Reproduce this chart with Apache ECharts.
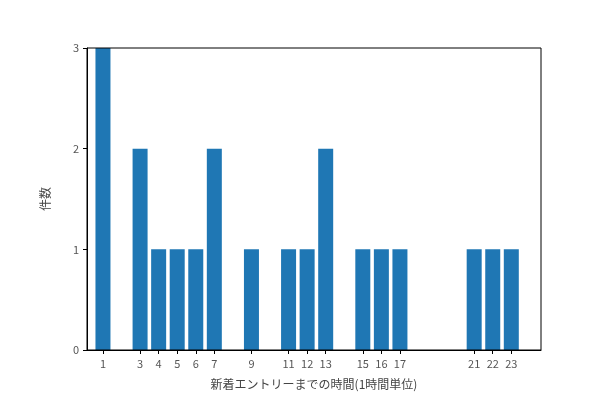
<!DOCTYPE html>
<html><head><meta charset="utf-8">
<script src="https://cdn.jsdelivr.net/npm/echarts@6/dist/echarts.min.js"></script>
</head><body style="margin:0">
<div id="c" style="width:600px;height:400px"></div>
<script>
const hours = [1,3,4,5,6,7,9,11,12,13,15,16,17,21,22,23];
const counts = [3,2,1,1,1,2,1,1,1,2,1,1,1,1,1,1];
const yTicks = [0,1,2,3];
const font = '"Noto Sans CJK JP", sans-serif';
const chart = echarts.init(document.getElementById('c'));
chart.setOption({
  animation:false,
  grid:{left:87,right:59,top:48,bottom:50},
  xAxis:{type:'value',min:0.14,max:24.6,
    name:'新着エントリーまでの時間(1時間単位)',nameLocation:'middle',nameGap:28,
    nameTextStyle:{color:'#444',fontSize:12,fontFamily:font},
    axisLine:{onZero:false,lineStyle:{color:'#000'}},
    axisTick:{show:true,customValues:hours,length:4,lineStyle:{color:'#000'}},
    axisLabel:{customValues:hours,color:'#555',fontSize:11,fontFamily:font,margin:8},
    splitLine:{show:false}},
  yAxis:{type:'value',min:0,max:3,interval:1,
    name:'件数',nameLocation:'middle',nameGap:36,
    nameTextStyle:{color:'#444',fontSize:12,fontFamily:font},
    axisLine:{show:true,lineStyle:{color:'#000'}},
    axisTick:{show:true,length:4,lineStyle:{color:'#000'}},
    axisLabel:{color:'#555',fontSize:11,fontFamily:font,formatter:v=>yTicks.includes(v)?String(v):''},
    splitLine:{show:false}},
  graphic:[{type:'rect',shape:{x:87,y:48,width:454,height:302},style:{fill:'none',stroke:'#000',lineWidth:1},silent:true,z:100}],
  series:[{type:'bar',barWidth:15,itemStyle:{color:'#1f77b4'},
    data:hours.map((h,i)=>[h,counts[i]])}]
});
</script></body></html>
